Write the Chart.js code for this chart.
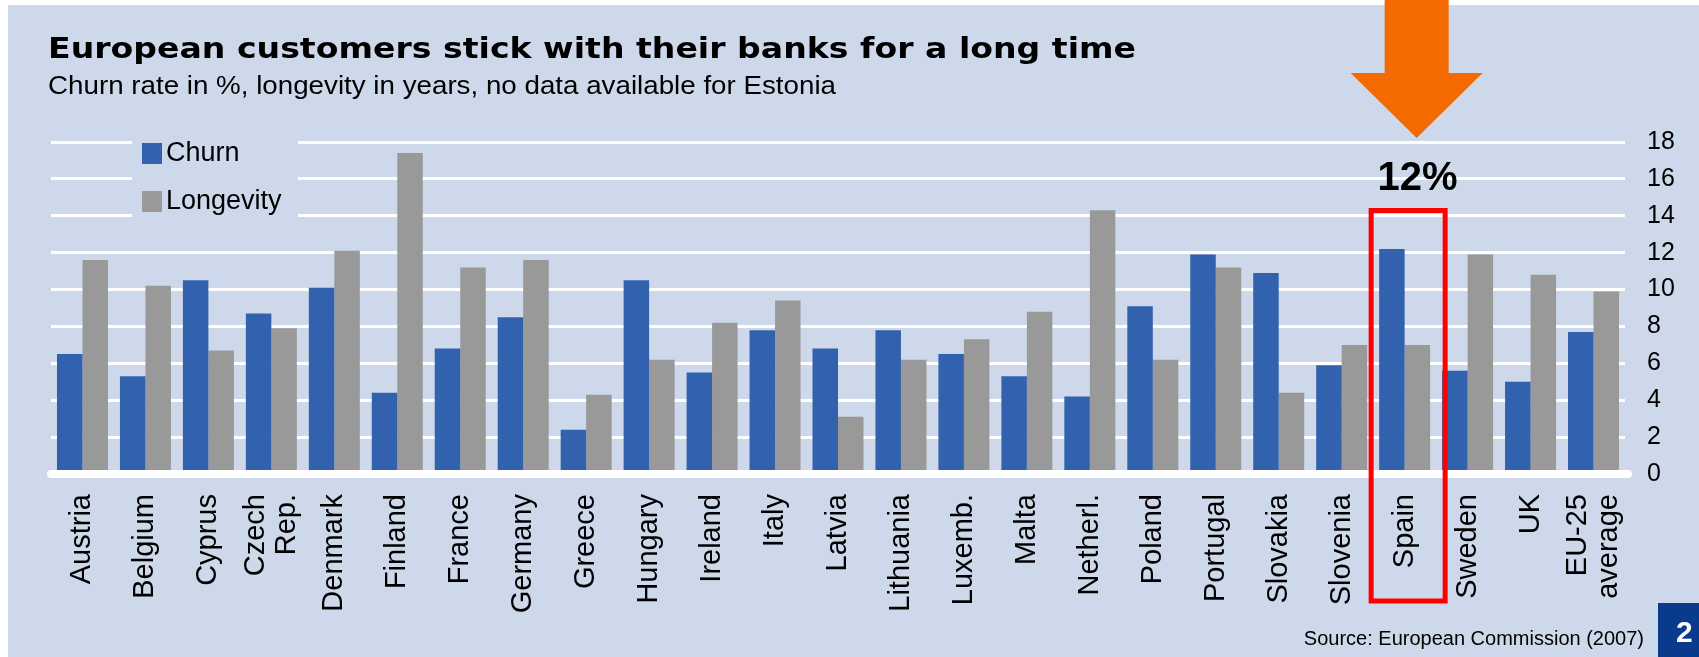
<!DOCTYPE html>
<html>
<head>
<meta charset="utf-8">
<script src="https://cdn.jsdelivr.net/npm/chart.js@4.4.0/dist/chart.umd.min.js"></script>
<style>
  html, body { margin: 0; padding: 0; background: #ffffff; }
  canvas { display: block; }
</style>
</head>
<body>
<canvas id="chart" width="1699" height="657"></canvas>
<script>
// Countries (Estonia has no data)
const categories = ['Austria', 'Belgium', 'Cyprus', ['Czech', 'Rep.'], 'Denmark', 'Finland', 'France',
  'Germany', 'Greece', 'Hungary', 'Ireland', 'Italy', 'Latvia', 'Lithuania', 'Luxemb.', 'Malta',
  'Netherl.', 'Poland', 'Portugal', 'Slovakia', 'Slovenia', 'Spain', 'Sweden', 'UK', ['EU-25', 'average']];

// Churn rate in %
const churn = [6.5, 5.3, 10.5, 8.7, 10.1, 4.4, 6.8, 8.5, 2.4, 10.5, 5.5, 7.8, 6.8, 7.8, 6.5, 5.3,
  4.2, 9.1, 11.9, 10.9, 5.9, 12.2, 5.6, 5.0, 7.7];

// Longevity in years
const longevity = [11.6, 10.2, 6.7, 7.9, 12.1, 17.4, 11.2, 11.6, 4.3, 6.2, 8.2, 9.4, 3.1, 6.2, 7.3, 8.8,
  14.3, 6.2, 11.2, 4.4, 7.0, 7.0, 11.9, 10.8, 9.9];

const yTicks = [0, 2, 4, 6, 8, 10, 12, 14, 16, 18];
const seriesNames = ['Churn', 'Longevity'];
const highlighted = 'Spain';

const BG = '#cdd9ea';
const BLUE = '#3261ad';
const GREY = '#999999';
const FONT = '"Liberation Sans", Arial, sans-serif';

// draw a line of text squeezed or stretched to a given width
function fitText(ctx, text, x, y, width) {
  const w = ctx.measureText(text).width;
  ctx.save();
  ctx.translate(x, y);
  ctx.scale(width / w, 1);
  ctx.fillText(text, 0, 0);
  ctx.restore();
}

// Panel background, headline and footer
const panelPlugin = {
  id: 'panel',
  beforeDraw(chart) {
    const ctx = chart.ctx;
    ctx.save();
    ctx.fillStyle = '#ffffff';
    ctx.fillRect(0, 0, chart.width, chart.height);
    ctx.fillStyle = BG;
    ctx.fillRect(8, 5, chart.width - 8, chart.height - 5);

    ctx.fillStyle = '#000000';
    ctx.textAlign = 'left';
    ctx.textBaseline = 'alphabetic';
    ctx.font = 'bold 28px "DejaVu Sans", sans-serif';
    fitText(ctx, 'European customers stick with their banks for a long time', 48, 58, 1088);
    ctx.font = '25px ' + FONT;
    fitText(ctx, 'Churn rate in %, longevity in years, no data available for Estonia', 48, 94, 788);

    ctx.font = '20px ' + FONT;
    ctx.textAlign = 'right';
    ctx.fillText('Source: European Commission (2007)', 1644, 645);

    ctx.fillStyle = '#0a3a8c';
    ctx.fillRect(1658, 603, chart.width - 1658, chart.height - 603);
    ctx.fillStyle = '#ffffff';
    ctx.font = 'bold 30px ' + FONT;
    ctx.textAlign = 'left';
    ctx.fillText('2', 1676, 642);
    ctx.restore();

    // centre two-line category labels on their tick
    chart.scales.x.getLabelItems().forEach(item => {
      if (Array.isArray(item.label) && item.label.length > 1 && !item.centred) {
        item.options.translation[0] -= (item.label.length - 1) * item.font.lineHeight / 2;
        item.centred = true;
      }
    });
  },
  afterDatasetsDraw(chart) {
    // thick white base line under the bars
    const ctx = chart.ctx;
    const y = chart.scales.y.getPixelForValue(0);
    ctx.save();
    ctx.strokeStyle = '#ffffff';
    ctx.lineWidth = 8;
    ctx.lineCap = 'round';
    ctx.beginPath();
    ctx.moveTo(chart.chartArea.left, y);
    ctx.lineTo(chart.chartArea.right + 3, y);
    ctx.stroke();
    ctx.restore();
  },
  afterDraw(chart) {
    const ctx = chart.ctx;
    const area = chart.chartArea;
    ctx.save();

    // legend block in the top-left corner of the plot
    ctx.fillStyle = BG;
    ctx.fillRect(132, 128, 166, 100);
    const colors = [BLUE, GREY];
    ctx.font = '27px ' + FONT;
    ctx.textBaseline = 'middle';
    ctx.textAlign = 'left';
    seriesNames.forEach((name, i) => {
      const y = 143 + i * 48;
      ctx.fillStyle = colors[i];
      ctx.fillRect(142, y, 20, 21);
      ctx.fillStyle = '#000000';
      ctx.fillText(name, 166, y + 11);
    });

    // highlighted country: frame, value and arrow
    const idx = categories.indexOf(highlighted);
    const cx = chart.scales.x.getPixelForValue(idx);
    ctx.strokeStyle = '#ff0000';
    ctx.lineWidth = 5;
    ctx.strokeRect(cx - 33.5, area.top + 68.5, 74, area.bottom - area.top + 58.5);

    ctx.fillStyle = '#000000';
    ctx.font = 'bold 40px ' + FONT;
    ctx.textAlign = 'center';
    ctx.textBaseline = 'alphabetic';
    ctx.fillText(Math.round(churn[idx]) + '%', cx + 13, area.top + 48);

    const ax = cx + 12;
    ctx.fillStyle = '#f36a00';
    ctx.beginPath();
    ctx.moveTo(ax - 32, 0);
    ctx.lineTo(ax + 32, 0);
    ctx.lineTo(ax + 32, 73);
    ctx.lineTo(ax + 66, 73);
    ctx.lineTo(ax, 138);
    ctx.lineTo(ax - 66, 73);
    ctx.lineTo(ax - 32, 73);
    ctx.closePath();
    ctx.fill();
    ctx.restore();
  }
};

new Chart(document.getElementById('chart'), {
  type: 'bar',
  data: {
    labels: categories,
    datasets: [
      { label: seriesNames[0], data: churn, backgroundColor: BLUE },
      { label: seriesNames[1], data: longevity, backgroundColor: GREY }
    ]
  },
  options: {
    responsive: false,
    animation: false,
    devicePixelRatio: 1,
    layout: { padding: { left: 51, right: 0, top: 142, bottom: 33 } },
    datasets: { bar: { categoryPercentage: 0.81, barPercentage: 1.0 } },
    plugins: {
      legend: { display: false },
      title: { display: false },
      tooltip: { enabled: false }
    },
    scales: {
      x: {
        grid: { display: false, drawTicks: false },
        border: { display: false },
        ticks: {
          autoSkip: false,
          maxRotation: 90,
          minRotation: 90,
          color: '#000000',
          padding: 20,
          font: { family: FONT, size: 29, lineHeight: 1.08 }
        },
        afterFit(scale) { scale.height = 150; }
      },
      y: {
        position: 'right',
        min: 0,
        max: 18,
        afterBuildTicks(scale) { scale.ticks = yTicks.map(v => ({ value: v })); },
        grid: { color: '#ffffff', lineWidth: 3, drawTicks: false },
        border: { display: false },
        ticks: {
          color: '#000000',
          padding: 22,
          font: { family: FONT, size: 25 }
        },
        afterFit(scale) { scale.width = 74; }
      }
    }
  },
  plugins: [panelPlugin]
});
</script>
</body>
</html>
